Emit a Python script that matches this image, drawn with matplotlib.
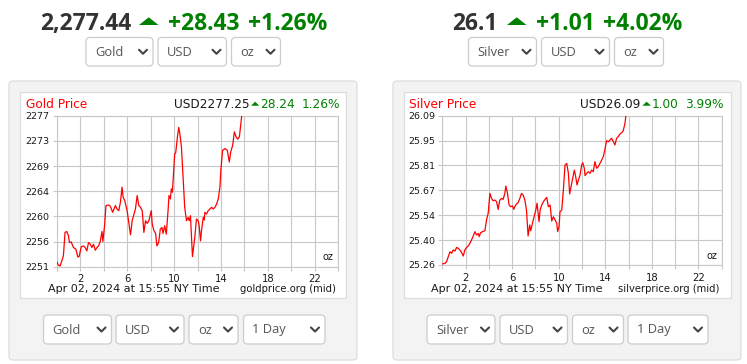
import numpy as np
import matplotlib
matplotlib.use('Agg')
import matplotlib.pyplot as plt
from matplotlib.patches import FancyBboxPatch, Rectangle, Polygon

W, H = 747, 364

# hours of the NY trading day and mid prices
gold_hours = [0.00, 0.14, 0.29, 0.57, 0.71, 0.86, 1.00, 1.09, 1.23, 1.43,
              1.63, 1.80, 1.91, 2.09, 2.29, 2.43, 2.57, 2.71, 2.86, 3.00,
              3.14, 3.29, 3.43, 3.57, 3.71, 3.86, 3.94, 4.09, 4.20, 4.43,
              4.57, 4.77, 5.00, 5.14, 5.29, 5.43, 5.57, 5.66, 5.80, 6.00,
              6.20, 6.29, 6.43, 6.63, 6.71, 6.86, 7.00, 7.14, 7.29, 7.43,
              7.57, 7.71, 7.86, 8.06, 8.14, 8.29, 8.43, 8.54, 8.69, 8.83,
              8.97, 9.06, 9.20, 9.34, 9.49, 9.57, 9.69, 9.77, 9.86, 9.97,
              10.06, 10.14, 10.29, 10.40, 10.49, 10.63, 10.77, 10.91, 11.06, 11.20,
              11.29, 11.40, 11.49, 11.57, 11.77, 11.91, 12.06, 12.14, 12.26, 12.34,
              12.49, 12.57, 12.63, 12.77, 12.91, 13.06, 13.20, 13.34, 13.49, 13.63,
              13.77, 13.91, 14.00, 14.14, 14.34, 14.54, 14.71, 14.83, 15.00, 15.14,
              15.29, 15.43, 15.57, 15.77]
gold_prices = [2252.26, 2251.69, 2251.52, 2253.24, 2257.26, 2257.43, 2256.69, 2255.54, 2255.65, 2254.68,
               2254.39, 2253.07, 2253.13, 2254.79, 2254.96, 2254.68, 2254.10, 2255.54, 2255.25, 2254.68,
               2255.25, 2254.22, 2254.68, 2254.96, 2255.71, 2257.43, 2255.71, 2258.70, 2261.86, 2261.97,
               2261.74, 2260.71, 2261.86, 2261.28, 2260.99, 2262.43, 2265.02, 2263.29, 2262.72, 2260.99,
               2258.12, 2256.86, 2259.27, 2260.71, 2261.28, 2263.58, 2261.86, 2261.57, 2260.99, 2257.26,
               2259.27, 2258.81, 2259.27, 2260.99, 2258.70, 2257.55, 2257.09, 2254.96, 2255.54, 2257.84,
               2258.12, 2257.09, 2258.41, 2256.97, 2260.99, 2263.58, 2263.00, 2264.73, 2264.15, 2267.89,
               2270.76, 2270.87, 2273.63, 2275.24, 2274.21, 2271.91, 2266.74, 2261.57, 2259.27, 2259.85,
               2259.27, 2260.13, 2256.40, 2253.13, 2256.40, 2259.56, 2259.27, 2258.41, 2255.82, 2257.55,
               2259.85, 2259.39, 2260.71, 2260.42, 2260.99, 2261.28, 2261.57, 2261.28, 2261.57, 2262.14,
               2263.00, 2265.02, 2268.17, 2271.33, 2271.62, 2271.33, 2269.32, 2271.05, 2272.20, 2274.49,
               2273.63, 2273.23, 2273.63, 2277.25]

silver_hours = [0.00, 0.23, 0.37, 0.51, 0.66, 0.80, 0.94, 1.09, 1.23, 1.37,
                1.51, 1.66, 1.80, 1.94, 2.09, 2.23, 2.37, 2.51, 2.66, 2.80,
                2.94, 3.09, 3.17, 3.29, 3.46, 3.66, 3.80, 3.94, 4.09, 4.23,
                4.37, 4.51, 4.66, 4.80, 4.94, 5.09, 5.23, 5.37, 5.46, 5.60,
                5.74, 5.86, 6.03, 6.14, 6.23, 6.37, 6.51, 6.66, 6.80, 6.94,
                7.09, 7.23, 7.37, 7.51, 7.60, 7.74, 7.89, 8.03, 8.14, 8.31,
                8.40, 8.54, 8.69, 8.83, 8.97, 9.11, 9.26, 9.40, 9.54, 9.69,
                9.83, 9.91, 10.03, 10.11, 10.26, 10.40, 10.54, 10.69, 10.83, 10.94,
                11.06, 11.20, 11.34, 11.46, 11.57, 11.69, 11.83, 11.97, 12.06, 12.20,
                12.26, 12.40, 12.54, 12.69, 12.83, 12.97, 13.11, 13.26, 13.40, 13.54,
                13.69, 13.83, 13.97, 14.11, 14.26, 14.40, 14.54, 14.69, 14.83, 14.97,
                15.11, 15.26, 15.40, 15.54, 15.69, 15.77]
silver_prices = [25.264, 25.267, 25.277, 25.304, 25.332, 25.323, 25.342, 25.336, 25.356, 25.351,
                 25.342, 25.327, 25.308, 25.342, 25.356, 25.364, 25.379, 25.397, 25.420, 25.444,
                 25.425, 25.434, 25.416, 25.438, 25.444, 25.449, 25.509, 25.546, 25.657, 25.629,
                 25.616, 25.620, 25.611, 25.568, 25.620, 25.629, 25.624, 25.657, 25.698, 25.657,
                 25.592, 25.583, 25.587, 25.568, 25.583, 25.598, 25.605, 25.629, 25.657, 25.648,
                 25.620, 25.564, 25.420, 25.481, 25.449, 25.490, 25.527, 25.564, 25.602, 25.499,
                 25.564, 25.592, 25.611, 25.624, 25.635, 25.583, 25.592, 25.503, 25.527, 25.509,
                 25.490, 25.444, 25.472, 25.555, 25.564, 25.676, 25.815, 25.824, 25.769, 25.654,
                 25.694, 25.741, 25.787, 25.750, 25.704, 25.732, 25.759, 25.815, 25.828, 25.797,
                 25.756, 25.769, 25.778, 25.769, 25.787, 25.778, 25.834, 25.797, 25.806, 25.824,
                 25.843, 25.862, 25.902, 25.951, 25.945, 25.954, 25.964, 25.945, 25.927, 25.964,
                 25.973, 25.988, 25.995, 26.006, 26.047, 26.090]

gold_ylim = (2251.4, 2277.25)
silver_ylim = (25.258, 26.09)
gold_ylabels = ['2251', '2256', '2260', '2264', '2269', '2273', '2277']
silver_ylabels = ['25.26', '25.40', '25.54', '25.67', '25.81', '25.95', '26.09']
xtick_hours = list(range(0, 25, 2))
xtick_labels = ['', '2', '', '6', '', '10', '', '14', '', '18', '', '22', '']

GREEN = '#008000'
DARK = '#333333'
GRID = '#c8c8c8'

fig = plt.figure(figsize=(W / 100, H / 100), dpi=100)
fig.patch.set_facecolor('white')

bg = fig.add_axes([0, 0, 1, 1])
bg.set_xlim(0, W)
bg.set_ylim(H, 0)
bg.axis('off')


def dropdown(x0, x1, y0, y1, label):
    bg.add_patch(FancyBboxPatch((x0, y0), x1 - x0, y1 - y0,
                                boxstyle='round,pad=0,rounding_size=4',
                                fc='white', ec='#cccccc', lw=0.9))
    cy = (y0 + y1) / 2
    bg.text(x0 + 9, cy + 0.5, label, fontsize=9.3, family='Open Sans',
            color='#555555', ha='left', va='center')
    cx = x1 - 10
    bg.plot([cx - 4, cx, cx + 4], [cy - 2, cy + 2, cy - 2], color='#444444',
            lw=1.5, solid_capstyle='round', solid_joinstyle='round')


def headline(parts, tri):
    for x, s, c in parts:
        bg.text(x, 30, s, fontsize=16.5, fontweight='bold', family='Open Sans',
                color=c, ha='left', va='baseline')
    bg.add_patch(Polygon([(tri[0], 25), (tri[1], 25), ((tri[0] + tri[1]) / 2, 17.3)],
                         closed=True, fc=GREEN, ec='none'))


def chart(rect_px, hours, prices, ylim, ylabels):
    x0, x1, y0, y1 = rect_px
    ax = fig.add_axes([x0 / W, 1 - y1 / H, (x1 - x0) / W, (y1 - y0) / H])
    ax.set_facecolor('white')
    ax.plot(hours, prices, color='#ff0000', lw=0.9, zorder=3)
    ax.set_xlim(0, 24)
    ax.set_ylim(*ylim)
    ax.set_xticks(xtick_hours)
    ax.set_xticklabels(xtick_labels)
    ax.set_yticks(np.linspace(ylim[0], ylim[1], 7))
    ax.set_yticklabels(ylabels)
    ax.grid(color=GRID, lw=0.8)
    for sp in ax.spines.values():
        sp.set_color(GRID)
        sp.set_linewidth(0.8)
    ax.tick_params(axis='both', color=GRID, length=3, width=0.8, labelcolor='#1a1a1a')
    ax.tick_params(axis='x', labelsize=7.2, pad=2.5)
    ax.tick_params(axis='y', labelsize=6.8, pad=2.2)
    ax.text(0.984, 0.03, 'oz', transform=ax.transAxes, ha='right', va='bottom',
            fontsize=7, color='#1a1a1a')
    return ax


def chart_header(title_x, title, usd_right, usd, tri, chg_x, chg, pct_right, pct):
    bg.text(title_x, 108, title, fontsize=8.7, color='#ff0000', ha='left', va='baseline')
    bg.text(usd_right, 108, usd, fontsize=8.7, color='#1a1a1a', ha='right', va='baseline')
    bg.add_patch(Polygon([(tri[0], 105.7), (tri[1], 105.7), ((tri[0] + tri[1]) / 2, 101.7)],
                         closed=True, fc=GREEN, ec='none'))
    bg.text(chg_x, 108, chg, fontsize=8.7, color=GREEN, ha='left', va='baseline')
    bg.text(pct_right, 108, pct, fontsize=8.7, color=GREEN, ha='right', va='baseline')


def footer(left_x, right_x, site):
    bg.text(left_x, 292, 'Apr 02, 2024 at 15:55 NY Time', fontsize=8, color='#1a1a1a',
            ha='left', va='baseline')
    bg.text(right_x, 292, site, fontsize=7.2, color='#1a1a1a', ha='right', va='baseline')


# panels and white chart boxes
for px0, px1, bx0, bx1 in [(9, 357, 20, 346), (393, 741, 404, 731)]:
    bg.add_patch(FancyBboxPatch((px0, 81), px1 - px0, 279,
                                boxstyle='round,pad=0,rounding_size=4',
                                fc='#f3f3f3', ec='#dddddd', lw=0.9))
    bg.add_patch(Rectangle((bx0, 92), bx1 - bx0, 206, fc='white', ec='#dddddd', lw=0.9))

# gold side
headline([(40, '2,277.44', DARK), (168, '+28.43', GREEN), (248, '+1.26%', GREEN)], (139, 158.5))
dropdown(86, 153, 37.5, 66, 'Gold')
dropdown(158, 226.5, 37.5, 66, 'USD')
dropdown(231.5, 280.5, 37.5, 66, 'oz')
chart_header(26.5, 'Gold Price', 249.3, 'USD2277.25', (251, 259.3), 260.5, '28.24', 340, '1.26%')
chart((56.7, 338.3, 115.7, 266.7), gold_hours, gold_prices, gold_ylim, gold_ylabels)
footer(48, 336, 'goldprice.org (mid)')
dropdown(43.5, 111.5, 315, 344, 'Gold')
dropdown(116, 184, 315, 344, 'USD')
dropdown(189, 238, 315, 344, 'oz')
dropdown(243.5, 325, 315, 344, '1 Day')

# silver side
headline([(452, '26.1', DARK), (536, '+1.01', GREEN), (603, '+4.02%', GREEN)], (507, 526.5))
dropdown(468.5, 536.5, 37.5, 66, 'Silver')
dropdown(541.5, 609.5, 37.5, 66, 'USD')
dropdown(614.5, 663.5, 37.5, 66, 'oz')
chart_header(409, 'Silver Price', 640.7, 'USD26.09', (642.3, 651), 652, '1.00', 723.3, '3.99%')
chart((442.3, 721.7, 115.7, 265), silver_hours, silver_prices, silver_ylim, silver_ylabels)
footer(431, 719.5, 'silverprice.org (mid)')
dropdown(427, 495, 315, 344, 'Silver')
dropdown(500, 567.5, 315, 344, 'USD')
dropdown(572.5, 623.5, 315, 344, 'oz')
dropdown(628, 708, 315, 344, '1 Day')

fig.savefig('out.png', dpi=100)
